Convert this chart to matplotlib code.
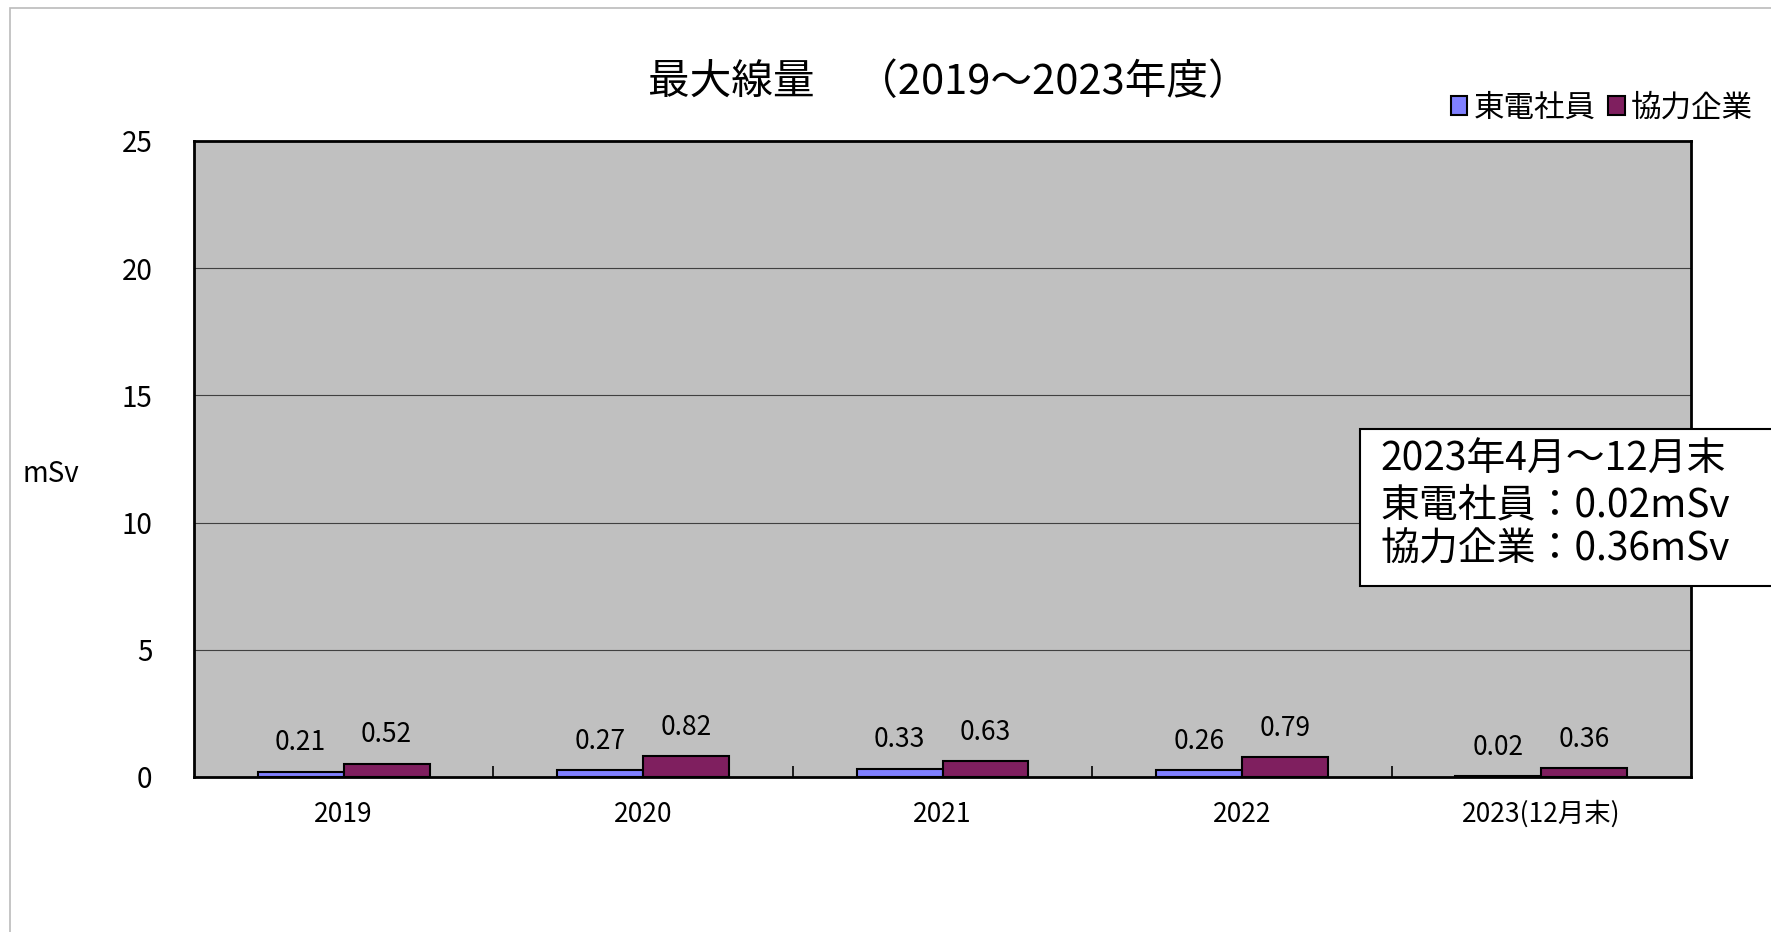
import matplotlib
matplotlib.use('Agg')
import matplotlib.pyplot as plt
from matplotlib.patches import Rectangle, Patch
import numpy as np

plt.rcParams['font.family'] = ['Noto Sans CJK JP', 'DejaVu Sans']

# data
years = ['2019', '2020', '2021', '2022', '2023(12月末)']
tepco = [0.21, 0.27, 0.33, 0.26, 0.02]
partner = [0.52, 0.82, 0.63, 0.79, 0.36]
series_names = ['東電社員', '協力企業']
y_ticks = [0, 5, 10, 15, 20, 25]
note_lines = ['2023年4月～12月末', '東電社員：0.02mSv', '協力企業：0.36mSv']

BLUE = '#8080FF'
PURPLE = '#7F1F5F'
W, H = 1771, 932

fig = plt.figure(figsize=(W / 100, H / 100), dpi=100)
ax = fig.add_axes([194 / W, 1 - 777 / H, (1691 - 194) / W, (777 - 141) / H])
ax.set_facecolor('#C0C0C0')

x = np.arange(len(years))
bw = 0.287
b1 = ax.bar(x - bw / 2, tepco, bw, color=BLUE, edgecolor='black', linewidth=1.5, zorder=3)
b2 = ax.bar(x + bw / 2, partner, bw, color=PURPLE, edgecolor='black', linewidth=1.5, zorder=3)

for bars, vals in ((b1, tepco), (b2, partner)):
    for r, v in zip(bars, vals):
        ax.annotate(f'{v:.2f}', (r.get_x() + r.get_width() / 2, v),
                    xytext=(0, 11), textcoords='offset points',
                    ha='center', va='bottom', fontsize=19)

ax.set_xlim(-0.5, len(years) - 0.5)
ax.set_ylim(0, 25)
ax.set_yticks(y_ticks)
ax.yaxis.grid(True, color='#404040', linewidth=0.8, zorder=1)
ax.set_axisbelow(True)
ax.tick_params(axis='y', length=0, labelsize=20, pad=30)

ax.set_xticks(x)
ax.set_xticklabels(years, fontsize=19)
ax.tick_params(axis='x', length=0, pad=17)
ax.set_xticks(np.arange(0.5, len(years) - 1, 1), minor=True)
ax.tick_params(axis='x', which='minor', direction='in', length=8, width=1.2)

for s in ax.spines.values():
    s.set_linewidth(2)

fig.text(51 / W, 1 - 474 / H, 'mSv', fontsize=20, ha='center', va='center')
fig.text(949 / W, 1 - 82 / H, '最大線量　（2019～2023年度）', fontsize=30,
         ha='center', va='center')

handles = [Patch(facecolor=BLUE, edgecolor='black', linewidth=1.5),
           Patch(facecolor=PURPLE, edgecolor='black', linewidth=1.5)]
fig.legend(handles, series_names, loc='center right', bbox_to_anchor=(1.0, 1 - 108 / H),
           ncol=2, frameon=False, fontsize=22, handlelength=0.55, handleheight=0.55,
           handletextpad=0.2, columnspacing=0.4, borderaxespad=0.2)

# note box
fig.patches.append(Rectangle((1360 / W, 1 - 586 / H), (W - 1360) / W + 0.01, (586 - 429) / H,
                             transform=fig.transFigure, facecolor='white',
                             edgecolor='black', linewidth=1.5, zorder=5))
for i, line in enumerate(note_lines):
    fig.text(1380 / W, 1 - (460 + 45 * i) / H, line, fontsize=28,
             ha='left', va='center', zorder=6)

# outer frame
fig.patches.append(Rectangle((10 / W, -0.1), 1.2, 1 - 8 / H + 0.1,
                             transform=fig.transFigure, facecolor='none',
                             edgecolor='#BBBBBB', linewidth=1.2, zorder=0))

fig.savefig('out.png', dpi=100)
